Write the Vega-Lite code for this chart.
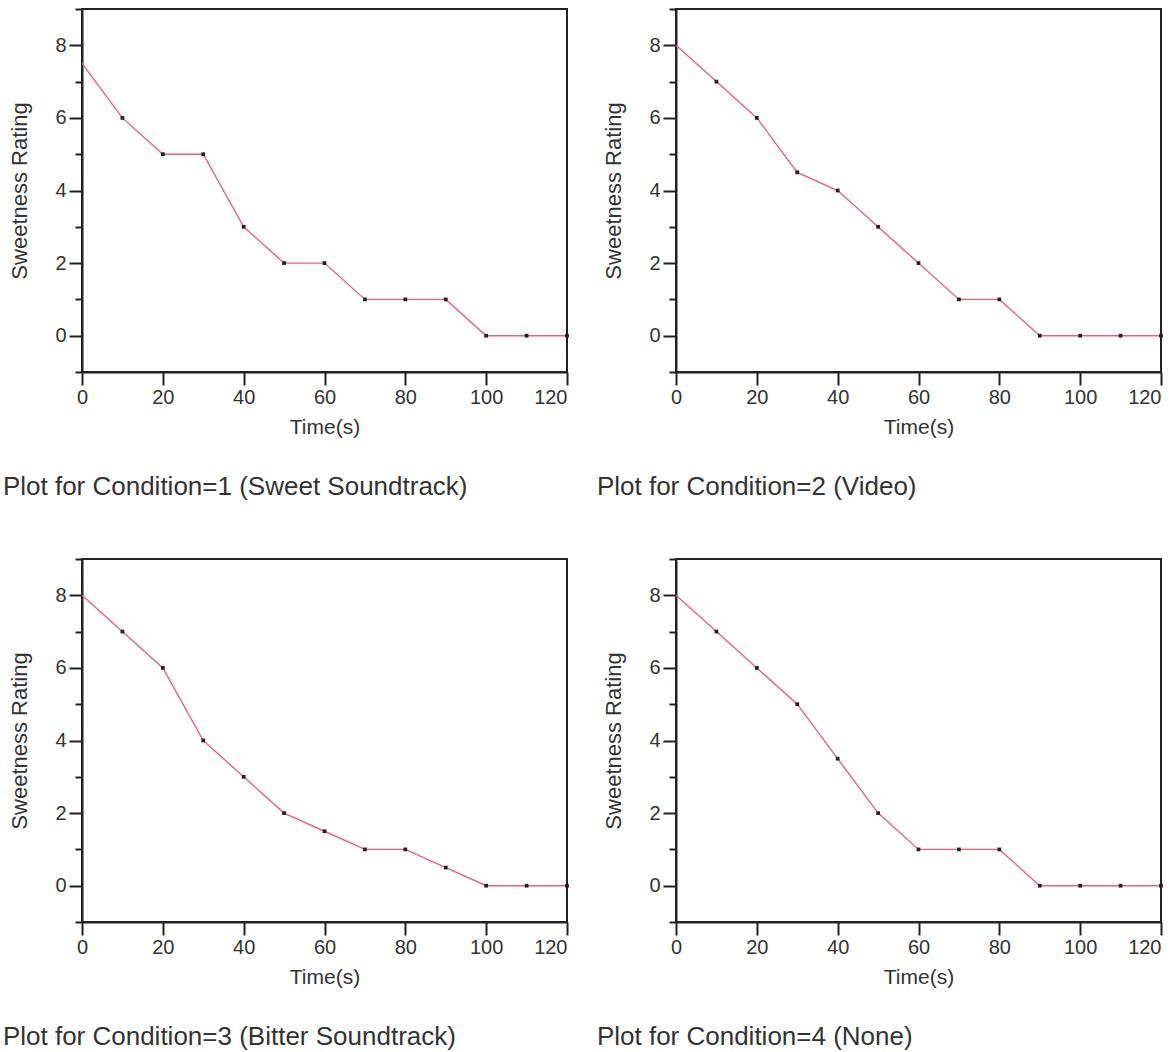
{
  "$schema": "https://vega.github.io/schema/vega-lite/v6.json",
  "padding": {"left": 1, "top": 7, "right": 2, "bottom": 2},
  "background": "white",
  "datasets": {
    "ratings": [
      {"condition": 1, "time": 0, "rating": 7.5}, {"condition": 1, "time": 10, "rating": 6}, {"condition": 1, "time": 20, "rating": 5}, {"condition": 1, "time": 30, "rating": 5}, {"condition": 1, "time": 40, "rating": 3}, {"condition": 1, "time": 50, "rating": 2}, {"condition": 1, "time": 60, "rating": 2}, {"condition": 1, "time": 70, "rating": 1}, {"condition": 1, "time": 80, "rating": 1}, {"condition": 1, "time": 90, "rating": 1}, {"condition": 1, "time": 100, "rating": 0}, {"condition": 1, "time": 110, "rating": 0}, {"condition": 1, "time": 120, "rating": 0},
      {"condition": 2, "time": 0, "rating": 8}, {"condition": 2, "time": 10, "rating": 7}, {"condition": 2, "time": 20, "rating": 6}, {"condition": 2, "time": 30, "rating": 4.5}, {"condition": 2, "time": 40, "rating": 4}, {"condition": 2, "time": 50, "rating": 3}, {"condition": 2, "time": 60, "rating": 2}, {"condition": 2, "time": 70, "rating": 1}, {"condition": 2, "time": 80, "rating": 1}, {"condition": 2, "time": 90, "rating": 0}, {"condition": 2, "time": 100, "rating": 0}, {"condition": 2, "time": 110, "rating": 0}, {"condition": 2, "time": 120, "rating": 0},
      {"condition": 3, "time": 0, "rating": 8}, {"condition": 3, "time": 10, "rating": 7}, {"condition": 3, "time": 20, "rating": 6}, {"condition": 3, "time": 30, "rating": 4}, {"condition": 3, "time": 40, "rating": 3}, {"condition": 3, "time": 50, "rating": 2}, {"condition": 3, "time": 60, "rating": 1.5}, {"condition": 3, "time": 70, "rating": 1}, {"condition": 3, "time": 80, "rating": 1}, {"condition": 3, "time": 90, "rating": 0.5}, {"condition": 3, "time": 100, "rating": 0}, {"condition": 3, "time": 110, "rating": 0}, {"condition": 3, "time": 120, "rating": 0},
      {"condition": 4, "time": 0, "rating": 8}, {"condition": 4, "time": 10, "rating": 7}, {"condition": 4, "time": 20, "rating": 6}, {"condition": 4, "time": 30, "rating": 5}, {"condition": 4, "time": 40, "rating": 3.5}, {"condition": 4, "time": 50, "rating": 2}, {"condition": 4, "time": 60, "rating": 1}, {"condition": 4, "time": 70, "rating": 1}, {"condition": 4, "time": 80, "rating": 1}, {"condition": 4, "time": 90, "rating": 0}, {"condition": 4, "time": 100, "rating": 0}, {"condition": 4, "time": 110, "rating": 0}, {"condition": 4, "time": 120, "rating": 0}
    ]
  },
  "columns": 2,
  "spacing": {"row": 56, "column": 24},
  "concat": [
    {
      "width": 485, "height": 363,
      "title": {"text": "Plot for Condition=1 (Sweet Soundtrack)"},
      "data": {"name": "ratings"},
      "transform": [{"filter": "datum.condition == 1"}],
      "resolve": {"axis": {"y": "independent", "x": "independent"}},
      "layer": [
        {"mark": {"type": "line", "color": "#e8627e", "strokeWidth": 1.4},
         "encoding": {
           "x": {"field": "time", "type": "quantitative", "title": "Time(s)", "scale": {"domain": [0, 120], "nice": false, "zero": false}, "axis": {"orient": "bottom", "values": [0, 20, 40, 60, 80, 100, 120]}},
           "y": {"field": "rating", "type": "quantitative", "title": "Sweetness Rating", "scale": {"domain": [-1, 9], "nice": false, "zero": false}, "axis": {"orient": "left", "values": [0, 2, 4, 6, 8]}}
         }},
        {"transform": [{"filter": "datum.time > 0"}],
         "mark": {"type": "point", "shape": "square", "filled": true, "color": "#222222", "size": 14, "opacity": 1},
         "encoding": {
           "x": {"field": "time", "type": "quantitative", "axis": null},
           "y": {"field": "rating", "type": "quantitative", "axis": {"orient": "left", "values": [-1, 1, 3, 5, 7, 9], "labels": false, "title": null, "tickSize": 7, "domain": false}}
         }}
      ]
    },
    {
      "width": 485, "height": 363,
      "title": {"text": "Plot for Condition=2 (Video)"},
      "data": {"name": "ratings"},
      "transform": [{"filter": "datum.condition == 2"}],
      "resolve": {"axis": {"y": "independent", "x": "independent"}},
      "layer": [
        {"mark": {"type": "line", "color": "#e8627e", "strokeWidth": 1.4},
         "encoding": {
           "x": {"field": "time", "type": "quantitative", "title": "Time(s)", "scale": {"domain": [0, 120], "nice": false, "zero": false}, "axis": {"orient": "bottom", "values": [0, 20, 40, 60, 80, 100, 120]}},
           "y": {"field": "rating", "type": "quantitative", "title": "Sweetness Rating", "scale": {"domain": [-1, 9], "nice": false, "zero": false}, "axis": {"orient": "left", "values": [0, 2, 4, 6, 8]}}
         }},
        {"transform": [{"filter": "datum.time > 0"}],
         "mark": {"type": "point", "shape": "square", "filled": true, "color": "#222222", "size": 14, "opacity": 1},
         "encoding": {
           "x": {"field": "time", "type": "quantitative", "axis": null},
           "y": {"field": "rating", "type": "quantitative", "axis": {"orient": "left", "values": [-1, 1, 3, 5, 7, 9], "labels": false, "title": null, "tickSize": 7, "domain": false}}
         }}
      ]
    },
    {
      "width": 485, "height": 363,
      "title": {"text": "Plot for Condition=3 (Bitter Soundtrack)"},
      "data": {"name": "ratings"},
      "transform": [{"filter": "datum.condition == 3"}],
      "resolve": {"axis": {"y": "independent", "x": "independent"}},
      "layer": [
        {"mark": {"type": "line", "color": "#e8627e", "strokeWidth": 1.4},
         "encoding": {
           "x": {"field": "time", "type": "quantitative", "title": "Time(s)", "scale": {"domain": [0, 120], "nice": false, "zero": false}, "axis": {"orient": "bottom", "values": [0, 20, 40, 60, 80, 100, 120]}},
           "y": {"field": "rating", "type": "quantitative", "title": "Sweetness Rating", "scale": {"domain": [-1, 9], "nice": false, "zero": false}, "axis": {"orient": "left", "values": [0, 2, 4, 6, 8]}}
         }},
        {"transform": [{"filter": "datum.time > 0"}],
         "mark": {"type": "point", "shape": "square", "filled": true, "color": "#222222", "size": 14, "opacity": 1},
         "encoding": {
           "x": {"field": "time", "type": "quantitative", "axis": null},
           "y": {"field": "rating", "type": "quantitative", "axis": {"orient": "left", "values": [-1, 1, 3, 5, 7, 9], "labels": false, "title": null, "tickSize": 7, "domain": false}}
         }}
      ]
    },
    {
      "width": 485, "height": 363,
      "title": {"text": "Plot for Condition=4 (None)"},
      "data": {"name": "ratings"},
      "transform": [{"filter": "datum.condition == 4"}],
      "resolve": {"axis": {"y": "independent", "x": "independent"}},
      "layer": [
        {"mark": {"type": "line", "color": "#e8627e", "strokeWidth": 1.4},
         "encoding": {
           "x": {"field": "time", "type": "quantitative", "title": "Time(s)", "scale": {"domain": [0, 120], "nice": false, "zero": false}, "axis": {"orient": "bottom", "values": [0, 20, 40, 60, 80, 100, 120]}},
           "y": {"field": "rating", "type": "quantitative", "title": "Sweetness Rating", "scale": {"domain": [-1, 9], "nice": false, "zero": false}, "axis": {"orient": "left", "values": [0, 2, 4, 6, 8]}}
         }},
        {"transform": [{"filter": "datum.time > 0"}],
         "mark": {"type": "point", "shape": "square", "filled": true, "color": "#222222", "size": 14, "opacity": 1},
         "encoding": {
           "x": {"field": "time", "type": "quantitative", "axis": null},
           "y": {"field": "rating", "type": "quantitative", "axis": {"orient": "left", "values": [-1, 1, 3, 5, 7, 9], "labels": false, "title": null, "tickSize": 7, "domain": false}}
         }}
      ]
    }
  ],
  "config": {
    "font": "Liberation Sans",
    "view": {"stroke": "#222222", "strokeWidth": 2},
    "title": {"orient": "bottom", "anchor": "start", "fontSize": 26, "fontWeight": "normal", "color": "#333333", "offset": 37, "dx": -6, "font": "Liberation Sans"},
    "axis": {
      "grid": false,
      "domainColor": "#222222", "domainWidth": 2,
      "tickColor": "#222222", "tickWidth": 2, "tickSize": 13,
      "labelFont": "Liberation Sans", "labelFontSize": 20, "labelColor": "#333333",
      "titleFont": "Liberation Sans", "titleFontSize": 21, "titleFontWeight": "normal", "titleColor": "#333333"
    },
    "axisX": {"labelPadding": 2, "titlePadding": 9, "labelFlush": false, "labelAlign": {"condition": {"test": "datum.value == 120", "value": "right"}, "value": "center"}, "labelDx": {"condition": {"test": "datum.value == 120", "value": 2}, "value": 0}},
    "axisY": {"labelPadding": 3, "titlePadding": 23, "titleFontSize": 22}
  }
}
